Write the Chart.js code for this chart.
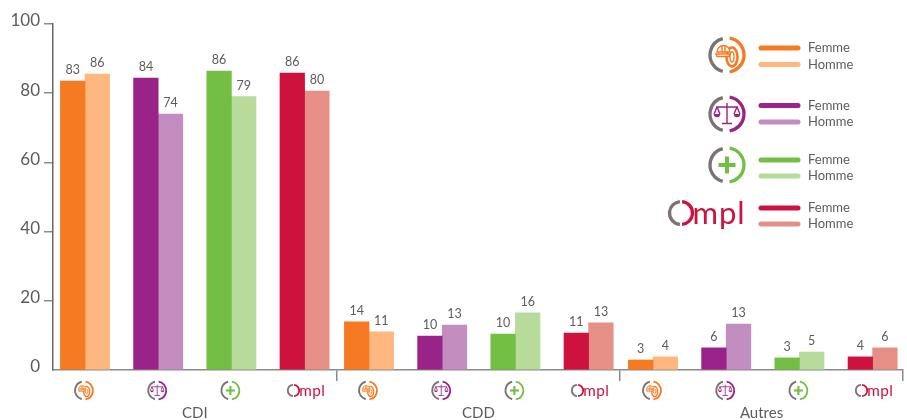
<!DOCTYPE html>
<html>
<head>
<meta charset="utf-8">
<title>Contrats</title>
<script src="https://cdn.jsdelivr.net/npm/chart.js@4/dist/chart.umd.min.js"></script>
<style>
html, body { margin: 0; padding: 0; background: #fff; }
#wrap { width: 907px; height: 420px; }
</style>
</head>
<body>
<div id="wrap"><canvas id="chart" width="907" height="420"></canvas></div>
<script>
// Data
const groups = ['CDI', 'CDD', 'Autres'];
const sectors = ['btp', 'droit', 'sante', 'ompl'];
const yTicks = [0, 20, 40, 60, 80, 100];
const femmeValues = [83.5, 84.4, 86.4, 85.8, 13.9, 9.8, 10.4, 10.7, 2.9, 6.4, 3.5, 3.8];
const hommeValues = [85.5, 74, 79, 80.6, 11, 13, 16.5, 13.6, 3.8, 13.3, 5.2, 6.4];
const femmeLabels = ['83', '84', '86', '86', '14', '10', '10', '11', '3', '6', '3', '4'];
const hommeLabels = ['86', '74', '79', '80', '11', '13', '16', '13', '4', '13', '5', '6'];

const femmeColors = ['#F67A21', '#992388', '#72BF44', '#CE123E'];
const hommeColors = ['#FDB77F', '#C38EBF', '#B7DB9B', '#E58F87'];
const GREY = '#7A7371';
const TEXT = '#5F5B5A';
const FONT = 'Lato, "Open Sans", sans-serif';

// each group sits a little closer to the previous one than the bars inside it
const xPos = femmeValues.map((_, i) => i - 0.12 * Math.floor(i / 4));
const groupEdges = [3.44, 7.31, 11.175];
const colorsFor = list => femmeValues.map((_, i) => list[i % 4]);

function ring(ctx, cx, cy, r, color, lw) {
    ctx.lineWidth = lw;
    ctx.lineCap = 'butt';
    ctx.strokeStyle = GREY;
    ctx.beginPath(); ctx.arc(cx, cy, r, Math.PI * 0.58, Math.PI * 1.42); ctx.stroke();
    ctx.strokeStyle = color;
    ctx.beginPath(); ctx.arc(cx, cy, r, -Math.PI * 0.45, Math.PI * 0.45); ctx.stroke();
}

function drawIcon(ctx, kind, cx, cy, r, color) {
    const k = r / 17;
    ctx.save();
    if (kind === 'ompl') { drawOmpl(ctx, cx, cy, k); ctx.restore(); return; }
    ring(ctx, cx, cy, r, color, 3 * k + 0.3);
    ctx.strokeStyle = color;
    ctx.fillStyle = color;
    if (kind === 'sante') {
        ctx.fillRect(cx - 8.5 * k, cy - 2 * k, 17 * k, 4 * k);
        ctx.fillRect(cx - 2 * k, cy - 8.5 * k, 4 * k, 17 * k);
    } else if (kind === 'droit') {
        ctx.lineWidth = 1.2 * k + 0.2;
        ctx.beginPath();
        ctx.moveTo(cx, cy - 11 * k); ctx.lineTo(cx, cy + 9 * k);
        ctx.moveTo(cx - 11 * k, cy - 7 * k); ctx.lineTo(cx + 11 * k, cy - 7 * k);
        ctx.moveTo(cx - 5 * k, cy + 9.5 * k); ctx.lineTo(cx + 5 * k, cy + 9.5 * k);
        ctx.moveTo(cx - 10 * k, cy - 7 * k); ctx.lineTo(cx - 13 * k, cy);
        ctx.moveTo(cx - 10 * k, cy - 7 * k); ctx.lineTo(cx - 7 * k, cy);
        ctx.moveTo(cx + 10 * k, cy - 7 * k); ctx.lineTo(cx + 13 * k, cy);
        ctx.moveTo(cx + 10 * k, cy - 7 * k); ctx.lineTo(cx + 7 * k, cy);
        ctx.stroke();
        ctx.beginPath(); ctx.arc(cx - 10 * k, cy, 3.2 * k, 0, Math.PI); ctx.fill();
        ctx.beginPath(); ctx.arc(cx + 10 * k, cy, 3.2 * k, 0, Math.PI); ctx.fill();
    } else {
        // helmet + tyre
        ctx.lineWidth = 2.4 * k + 0.2;
        ctx.beginPath(); ctx.ellipse(cx + 5 * k, cy + 2 * k, 5.5 * k, 9.5 * k, 0, 0, Math.PI * 2); ctx.stroke();
        ctx.lineWidth = 1.2 * k + 0.2;
        ctx.beginPath(); ctx.ellipse(cx + 5 * k, cy + 2 * k, 2 * k, 5 * k, 0, 0, Math.PI * 2); ctx.stroke();
        ctx.fillStyle = '#fff';
        ctx.beginPath(); ctx.arc(cx - 3.5 * k, cy - 3 * k, 6.5 * k, Math.PI, 0); ctx.closePath(); ctx.fill(); ctx.stroke();
        ctx.beginPath();
        ctx.moveTo(cx - 11 * k, cy - 1 * k); ctx.lineTo(cx + 3 * k, cy - 1 * k); ctx.lineTo(cx + 2 * k, cy + 1.5 * k); ctx.lineTo(cx - 10 * k, cy + 1.5 * k); ctx.closePath();
        ctx.fill(); ctx.stroke();
        ctx.beginPath();
        ctx.moveTo(cx - 5 * k, cy - 9 * k); ctx.lineTo(cx - 5 * k, cy - 3 * k);
        ctx.moveTo(cx - 2 * k, cy - 9 * k); ctx.lineTo(cx - 2 * k, cy - 3 * k);
        ctx.stroke();
    }
    ctx.restore();
}

// logo: grey/red O then "mpl"
function drawOmpl(ctx, cx, cy, k) {
    const ox = cx - 24.5 * k, r = 11.5 * k;
    ctx.lineWidth = 3 * k + 0.3;
    ctx.lineCap = 'butt';
    ctx.strokeStyle = GREY;
    ctx.beginPath(); ctx.arc(ox, cy, r, Math.PI * 0.53, Math.PI * 1.47); ctx.stroke();
    ctx.strokeStyle = femmeColors[3];
    ctx.beginPath(); ctx.arc(ox, cy, r, -Math.PI * 0.47, Math.PI * 0.47); ctx.stroke();
    ctx.font = '400 ' + (31 * k) + 'px ' + FONT;
    ctx.letterSpacing = (1 * k) + 'px';
    ctx.textAlign = 'left';
    ctx.textBaseline = 'alphabetic';
    ctx.fillStyle = femmeColors[3];
    ctx.fillText('mpl', cx - 13 * k, cy + 11 * k);
    ctx.letterSpacing = '0px';
}

const extras = {
    id: 'extras',
    afterDatasetsDraw(chart) {
        const ctx = chart.ctx, xs = chart.scales.x;
        ctx.save();
        // values above the bars
        ctx.fillStyle = TEXT;
        ctx.font = '12.5px ' + FONT;
        ctx.textAlign = 'center';
        ctx.textBaseline = 'middle';
        [femmeLabels, hommeLabels].forEach((labels, d) => {
            chart.getDatasetMeta(d).data.forEach((bar, i) => {
                ctx.fillText(labels[i], bar.x, bar.y - 11);
            });
        });
        // sector icons under the axis
        xPos.forEach((v, i) => {
            const s = sectors[i % 4];
            drawIcon(ctx, s, xs.getPixelForValue(v) + (s === 'ompl' ? 1 : -1), 390.5, s === 'ompl' ? 8.4 : 9, femmeColors[i % 4]);
        });
        // group names, centred between the separators
        ctx.fillStyle = TEXT;
        ctx.font = '15px ' + FONT;
        ctx.textAlign = 'center';
        ctx.textBaseline = 'middle';
        groups.forEach((g, i) => {
            const from = i ? xs.getPixelForValue(groupEdges[i - 1]) : xs.left;
            ctx.fillText(g, (from + xs.getPixelForValue(groupEdges[i])) / 2, 413);
        });
        // legend
        const rows = [[48, 64.5], [105.5, 122], [160, 176], [208, 224]];
        rows.forEach((r, i) => {
            const s = sectors[i];
            drawIcon(ctx, s, s === 'ompl' ? 705.5 : 727, s === 'ompl' ? 213 : [55, 114, 165][i], 17, femmeColors[i]);
            [femmeColors[i], hommeColors[i]].forEach((c, j) => {
                ctx.strokeStyle = c;
                ctx.lineWidth = 5;
                ctx.lineCap = 'round';
                ctx.beginPath(); ctx.moveTo(761, r[j]); ctx.lineTo(798, r[j]); ctx.stroke();
                ctx.fillStyle = TEXT;
                ctx.font = '13px ' + FONT;
                ctx.textAlign = 'left';
                ctx.textBaseline = 'middle';
                ctx.fillText(chart.data.datasets[j].label, 808, r[j]);
            });
        });
        ctx.restore();
    }
};

new Chart(document.getElementById('chart'), {
    type: 'bar',
    data: {
        datasets: [
            { label: 'Femme', data: xPos.map((x, i) => ({ x, y: femmeValues[i] })), backgroundColor: colorsFor(femmeColors) },
            { label: 'Homme', data: xPos.map((x, i) => ({ x, y: hommeValues[i] })), backgroundColor: colorsFor(hommeColors) }
        ]
    },
    options: {
        responsive: false,
        animation: false,
        barThickness: 24.6,
        layout: { padding: { top: 24, bottom: 39, left: 0, right: 4 } },
        plugins: { legend: { display: false }, tooltip: { enabled: false } },
        scales: {
            x: {
                type: 'linear',
                min: -0.437,
                max: 11.175,
                offset: false,
                afterBuildTicks: s => { s.ticks = groupEdges.map(value => ({ value })); },
                afterFit: s => { s.height = 11; },
                ticks: { display: false, autoSkip: false },
                grid: { offset: false, drawOnChartArea: false, drawTicks: true, tickLength: 11, color: '#8c8a89', lineWidth: 1.5 },
                border: { color: '#8c8a89', width: 1.5 }
            },
            y: {
                min: 0,
                max: 100,
                afterBuildTicks: s => { s.ticks = yTicks.map(value => ({ value })); },
                afterFit: s => { s.width = 53; },
                ticks: { color: TEXT, font: { family: FONT, size: 17 }, padding: 4, labelOffset: -3, callback: v => v },
                grid: {
                    drawOnChartArea: false, drawTicks: true, tickLength: 9, lineWidth: 1.5,
                    color: c => c.tick && c.tick.value === 0 ? 'rgba(0,0,0,0)' : '#8c8a89'
                },
                border: { color: '#6b6766', width: 1.5 }
            }
        }
    },
    plugins: [extras]
});
</script>
</body>
</html>
